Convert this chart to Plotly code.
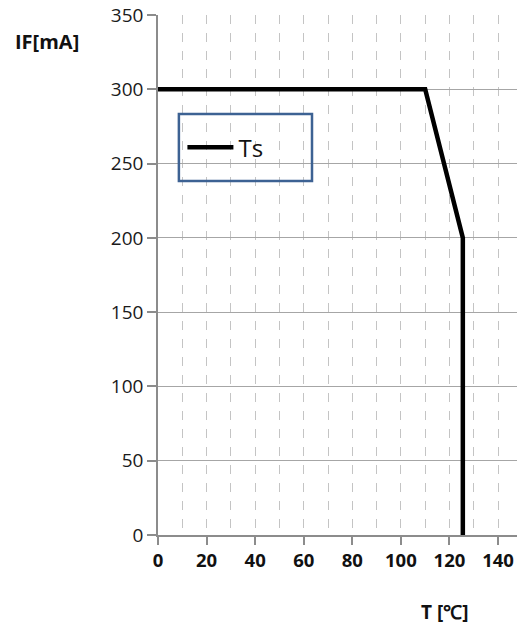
import plotly.graph_objects as go

# Data
temp_c = [0, 110, 125.5, 125.5]
current_ma = [300, 300, 200, 0]
series_name = "Ts"
x_ticks = [0, 20, 40, 60, 80, 100, 120, 140]
y_ticks = [0, 50, 100, 150, 200, 250, 300, 350]

FONT = "Open Sans"

fig = go.Figure()
fig.add_trace(go.Scatter(
    x=temp_c, y=current_ma, mode="lines", name=series_name,
    line=dict(color="#000000", width=4.5),
))

fig.update_layout(
    width=519, height=629,
    margin=dict(l=158, r=2, t=15, b=94),
    paper_bgcolor="white", plot_bgcolor="white",
    font=dict(family=FONT, color="#1a1a1a"),
    showlegend=True,
    legend=dict(
        x=0.068, y=0.745, xanchor="left", yanchor="middle",
        bgcolor="rgba(0,0,0,0)", borderwidth=0,
        font=dict(family=FONT, size=24, color="#111111"),
        itemwidth=46,
    ),
    xaxis=dict(
        range=[0, 147.8], tickvals=x_ticks,
        showgrid=True, gridcolor="#c4c4c4", griddash="dash", gridwidth=1,
        minor=dict(dtick=10, tick0=0, showgrid=True, gridcolor="#c4c4c4",
                   griddash="dash", gridwidth=1, ticks=""),
        showline=True, linecolor="#8c8c8c", linewidth=1.5,
        ticks="outside", ticklen=8, tickcolor="#8c8c8c", tickwidth=1.5,
        tickfont=dict(family=FONT, size=18.5, color="#111111", weight="bold"),
        zeroline=False,
    ),
    yaxis=dict(
        range=[0, 350], tickvals=y_ticks,
        showgrid=True, gridcolor="#a6a6a6", gridwidth=1.2,
        showline=True, linecolor="#8c8c8c", linewidth=1.5,
        ticks="outside", ticklen=9, tickcolor="#8c8c8c", tickwidth=1.5,
        tickfont=dict(family=FONT, size=19, color="#1a1a1a"),
        zeroline=False,
    ),
    shapes=[dict(
        type="rect", xref="x", yref="y",
        x0=8.6, x1=63.4, y0=238.3, y1=283.4,
        line=dict(color="#3d6293", width=2.5), fillcolor="rgba(0,0,0,0)",
        layer="above",
    )],
    annotations=[
        dict(text="<b>IF[mA]</b>", xref="paper", yref="paper",
             x=-0.31, y=0.95, xanchor="center", yanchor="middle",
             showarrow=False, font=dict(family=FONT, size=20, color="#111111")),
        dict(text="<b>T [℃]</b>", xref="paper", yref="paper",
             x=0.80, y=-0.149, xanchor="center", yanchor="middle",
             showarrow=False, font=dict(family=FONT, size=19, color="#111111")),
    ],
)

fig.write_html("out.html", config={"displayModeBar": False},
               post_script="document.body.style.margin='0';document.body.style.overflow='hidden';")
